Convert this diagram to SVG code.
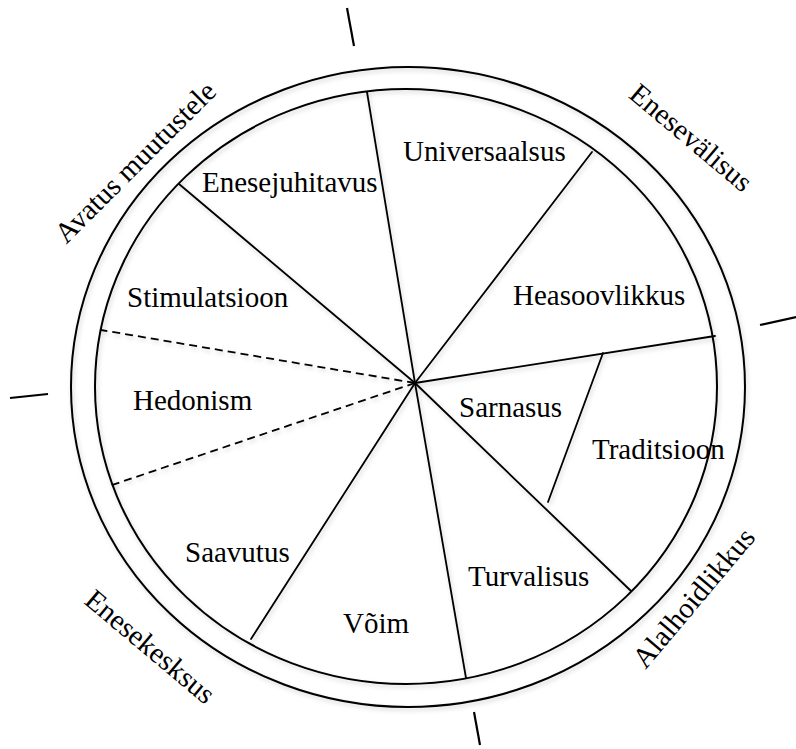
<svg xmlns="http://www.w3.org/2000/svg" width="796" height="749" viewBox="0 0 796 749">
<style>
text{font-family:"Liberation Serif","Times New Roman",serif;font-size:29px;fill:#000}
.ring{fill:none;stroke:#000;stroke-width:2}
.sp{stroke:#000;stroke-width:1.8;fill:none;stroke-linecap:round}
.dash{stroke:#000;stroke-width:1.8;fill:none;stroke-dasharray:8 5}
.tick{stroke:#000;stroke-width:2.2}
</style>
<defs>
<filter id="sh" x="-10%" y="-10%" width="120%" height="120%">
<feDropShadow dx="1.5" dy="2.5" stdDeviation="2" flood-color="#000" flood-opacity="0.18"/>
</filter>
</defs>
<rect width="796" height="749" fill="#fff"/>
<g id="rings" filter="url(#sh)">
<ellipse class="ring" cx="408" cy="387" rx="337" ry="320"/>
<ellipse class="ring" cx="406" cy="386.5" rx="311" ry="297.5"/>
</g>
<g id="connectors" filter="url(#sh)">
<line class="sp" x1="415" y1="383" x2="367" y2="92"/>
<line class="sp" x1="415" y1="383" x2="179" y2="184"/>
<line class="sp" x1="415" y1="383" x2="592" y2="152"/>
<line class="sp" x1="415" y1="383" x2="715" y2="336"/>
<line class="sp" x1="603" y1="353" x2="548" y2="502"/>
<line class="sp" x1="415" y1="383" x2="631" y2="591"/>
<line class="sp" x1="415" y1="383" x2="466" y2="678"/>
<line class="sp" x1="415" y1="383" x2="251" y2="639"/>
<line class="dash" x1="415" y1="383" x2="101" y2="330"/>
<line class="dash" x1="415" y1="383" x2="109" y2="486"/>
</g>
<g id="ticks">
<line class="tick" x1="347" y1="8" x2="354" y2="46"/>
<line class="tick" x1="10" y1="398" x2="48" y2="394"/>
<line class="tick" x1="760" y1="325" x2="796" y2="317"/>
<line class="tick" x1="474" y1="712" x2="480" y2="745"/>
</g>
<g id="enesejuhitavus"><text x="202" y="192">Enesejuhitavus</text></g>
<g id="universaalsus"><text x="403" y="161">Universaalsus</text></g>
<g id="stimulatsioon"><text x="127" y="307">Stimulatsioon</text></g>
<g id="heasoovlikkus"><text x="513" y="305">Heasoovlikkus</text></g>
<g id="hedonism"><text x="133" y="410">Hedonism</text></g>
<g id="sarnasus"><text x="459" y="417">Sarnasus</text></g>
<g id="traditsioon"><text x="592" y="459">Traditsioon</text></g>
<g id="saavutus"><text x="185" y="562">Saavutus</text></g>
<g id="voim"><text x="343" y="633">Võim</text></g>
<g id="turvalisus"><text x="468" y="586">Turvalisus</text></g>
<g id="avatus-muutustele"><text x="142" y="169" text-anchor="middle" transform="rotate(-45 142 169)">Avatus muutustele</text></g>
<g id="enesevalisus"><text x="685" y="145" text-anchor="middle" transform="rotate(40 685 145)">Enesevälisus</text></g>
<g id="alalhoidlikkus"><text x="701" y="604" text-anchor="middle" transform="rotate(-50 701 604)">Alalhoidlikkus</text></g>
<g id="enesekesksus"><text x="144" y="654" text-anchor="middle" transform="rotate(40 144 654)">Enesekesksus</text></g>
</svg>
